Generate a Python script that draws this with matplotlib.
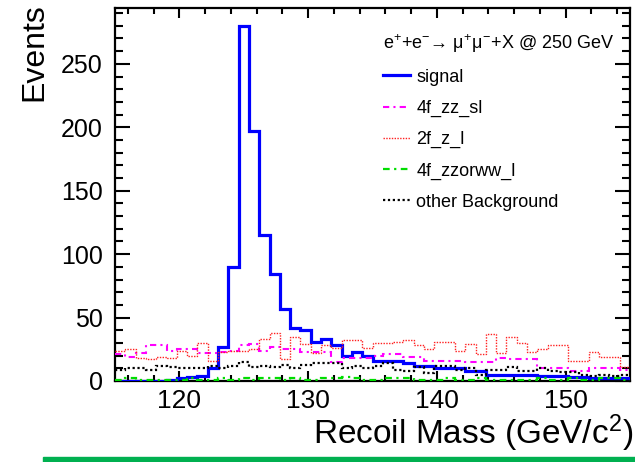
import numpy as np
import matplotlib
matplotlib.use("Agg")
import matplotlib.pyplot as plt
from matplotlib.patches import Rectangle
from matplotlib.ticker import MultipleLocator

plt.rcParams['font.family'] = ['Liberation Sans', 'DejaVu Sans']
plt.rcParams['mathtext.fontset'] = 'custom'
plt.rcParams['mathtext.rm'] = 'Liberation Sans'
plt.rcParams['mathtext.it'] = 'Liberation Sans'

# binning: 50 bins of 0.8 GeV between 115 and 155
m_lo, m_hi, n_bins = 115, 155, 50
edges = np.linspace(m_lo, m_hi, n_bins + 1)

signal = [0, 0, 0, 0, 0, 1, 2, 3, 4, 10,
          27, 90, 280, 197, 115, 84, 57, 42, 40, 31,
          33, 28, 20, 23, 20, 16, 16, 16, 14, 12,
          12, 10, 10, 10, 8, 8, 5, 5, 5, 5,
          5, 4, 4, 4, 3, 3, 2, 2, 2, 2]
zz_sl = [21, 19, 22, 28, 28, 24, 25, 25, 22, 22,
         23, 24, 28, 29, 24, 27, 25, 25, 23, 23,
         23, 15, 18, 18, 18, 20, 21, 21, 19, 19,
         16, 16, 16, 16, 15, 15, 15, 18, 17, 17,
         17, 10, 10, 10, 8, 8, 10, 10, 10, 9]
z_l = [24, 25, 18, 17, 19, 18, 24, 20, 30, 16,
       23, 24, 24, 25, 33, 38, 17, 35, 29, 22,
       28, 26, 32, 32, 26, 30, 30, 31, 32, 28,
       25, 31, 31, 24, 29, 21, 37, 22, 35, 30,
       23, 25, 28, 28, 16, 16, 23, 19, 19, 11]
zzorww_l = [1, 2, 1, 1, 1, 1, 1, 2, 1, 1,
            2, 1, 2, 1, 2, 2, 1, 2, 1, 1,
            2, 2, 3, 2, 1, 1, 2, 2, 2, 1,
            1, 1, 2, 1, 1, 2, 1, 1, 1, 1,
            1, 2, 1, 1, 2, 1, 1, 2, 2, 1]
other_bkg = [9, 10, 10, 9, 12, 11, 10, 10, 10, 12,
             10, 12, 15, 11, 12, 11, 13, 10, 13, 14,
             14, 14, 10, 12, 10, 12, 14, 9, 8, 11,
             6, 12, 12, 9, 10, 5, 9, 9, 11, 8,
             8, 10, 8, 7, 7, 5, 4, 5, 4, 5]

fig = plt.figure(figsize=(6.35, 4.62), dpi=100)
ax = fig.add_axes([115/635, 81/462, 515/635, 373/462])

ax.stairs(signal, edges, baseline=None, color='#0000ff', lw=2.3, label='signal', zorder=3)
ax.stairs(zz_sl, edges, baseline=None, color='#ff00ff', lw=1.5,
          linestyle=(0, (3, 2, 1, 2)), label='4f_zz_sl', zorder=4)
ax.stairs(z_l, edges, baseline=None, color='#ff2020', lw=1.0,
          linestyle=(0, (1, 1)), label='2f_z_l', zorder=4)
ax.stairs(zzorww_l, edges, baseline=None, color='#00dd00', lw=1.6,
          linestyle=(0, (3, 2, 1, 2)), label='4f_zzorww_l', zorder=4)
ax.stairs(other_bkg, edges, baseline=None, color='black', lw=1.6,
          linestyle=(0, (1, 1.2)), label='other Background', zorder=5)

ax.set_xlim(m_lo, m_hi)
ax.set_ylim(0, 1.05 * max(signal))

ax.xaxis.set_major_locator(MultipleLocator(10))
ax.xaxis.set_minor_locator(MultipleLocator(2))
ax.yaxis.set_major_locator(MultipleLocator(50))
ax.yaxis.set_minor_locator(MultipleLocator(10))

for s in ax.spines.values():
    s.set_linewidth(1.6)
ax.tick_params(axis='both', which='both', direction='in', top=True, right=True, width=1.5)
ax.tick_params(axis='y', which='major', length=11, labelsize=18, pad=9)
ax.tick_params(axis='y', which='minor', length=5.5)
ax.tick_params(axis='x', which='major', length=7.5, labelsize=19, pad=6)
ax.tick_params(axis='x', which='minor', length=4)

ax.set_ylabel('Events', fontsize=23, loc='top')
ax.yaxis.set_label_coords(-0.128, 1.012)
ax.set_xlabel(r'Recoil Mass (GeV/c$^{2}$)', fontsize=24, loc='right')
ax.xaxis.set_label_coords(1.006, -0.085)

leg = ax.legend(loc='upper left', bbox_to_anchor=(374/635, 1 - 23/462),
                bbox_transform=fig.transFigure, frameon=False, borderpad=0,
                fontsize=13, title=r'e$^{+}$+e$^{-}$→ $\mu^{+}\mu^{-}$+X @ 250 GeV',
                title_fontsize=13, handlelength=1.5, handletextpad=0.35,
                labelspacing=0.78)
leg._legend_box.align = 'left'

# green strip along the bottom edge of the image
fig.patches.append(Rectangle((43/635, 0), 592/635, 5/462, transform=fig.transFigure,
                             color='#00b050', zorder=0))

fig.savefig('out.png', dpi=100)
